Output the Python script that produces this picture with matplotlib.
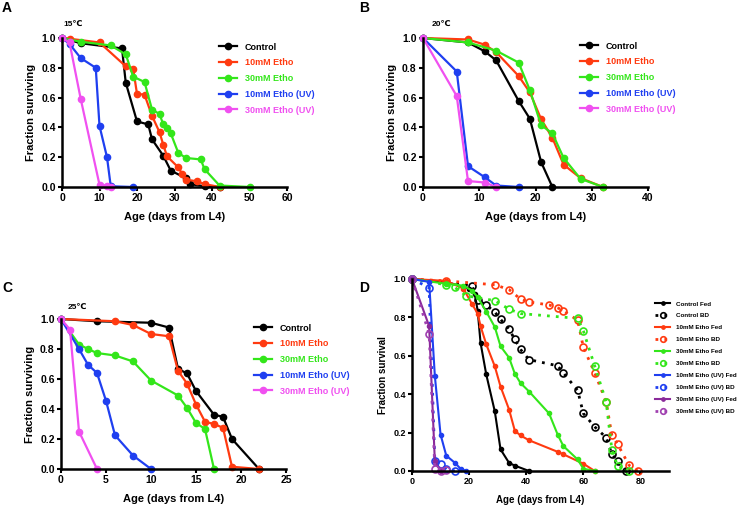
import numpy as np
import matplotlib
matplotlib.use("Agg")
import matplotlib.pyplot as plt

plt.rcParams['font.family'] = ['Liberation Sans', 'DejaVu Sans']
plt.rcParams['font.weight'] = 'bold'

# ---------------- data ----------------
series_names = ['Control', '10mM Etho', '30mM Etho', '10mM Etho (UV)', '30mM Etho (UV)']
series_colors = ['#000000', '#ff3a10', '#33e61a', '#1f3ff0', '#f050f0']

# panel A, 15C
a_ctrl_x = [0, 5, 16, 17, 20, 23, 24, 27, 29, 33, 34, 38, 42]
a_ctrl_y = [1.0, 0.965, 0.93, 0.70, 0.44, 0.42, 0.32, 0.21, 0.11, 0.06, 0.02, 0.005, 0.0]
a_10_x = [0, 2, 10, 17, 19, 20, 22, 24, 26, 27, 28, 31, 32, 33, 36, 38, 42]
a_10_y = [1.0, 0.995, 0.97, 0.81, 0.79, 0.625, 0.62, 0.478, 0.368, 0.284, 0.206, 0.132, 0.09, 0.05, 0.038, 0.02, 0.0]
a_30_x = [0, 5, 13, 17, 19, 22, 24, 26, 27, 28, 29, 31, 33, 37, 38, 42, 50]
a_30_y = [1.0, 0.975, 0.95, 0.89, 0.74, 0.705, 0.52, 0.49, 0.42, 0.395, 0.36, 0.23, 0.195, 0.185, 0.12, 0.01, 0.0]
a_10uv_x = [0, 2, 5, 9, 10, 12, 13, 19]
a_10uv_y = [1.0, 0.96, 0.865, 0.80, 0.41, 0.20, 0.005, 0.0]
a_30uv_x = [0, 2, 5, 10, 12, 13]
a_30uv_y = [1.0, 0.97, 0.59, 0.015, 0.01, 0.0]

# panel B, 20C
b_ctrl_x = [0, 8, 11, 13, 17, 19, 21, 23]
b_ctrl_y = [1.0, 0.97, 0.91, 0.85, 0.578, 0.458, 0.167, 0.0]
b_10_x = [0, 8, 11, 13, 17, 19, 21, 23, 25, 28, 32]
b_10_y = [1.0, 0.99, 0.955, 0.905, 0.745, 0.635, 0.455, 0.33, 0.15, 0.06, 0.0]
b_30_x = [0, 8, 13, 17, 19, 21, 23, 25, 28, 32]
b_30_y = [1.0, 0.97, 0.915, 0.835, 0.65, 0.415, 0.36, 0.195, 0.055, 0.0]
b_10uv_x = [0, 6, 8, 11, 13, 17]
b_10uv_y = [1.0, 0.775, 0.14, 0.065, 0.01, 0.0]
b_30uv_x = [0, 6, 8, 11, 13]
b_30uv_y = [1.0, 0.61, 0.04, 0.03, 0.0]

# panel C, 25C
c_ctrl_x = [0, 4, 10, 12, 13, 14, 15, 17, 18, 19, 22]
c_ctrl_y = [1.0, 0.985, 0.975, 0.943, 0.668, 0.637, 0.52, 0.362, 0.348, 0.20, 0.0]
c_10_x = [0, 6, 8, 10, 12, 13, 14, 15, 16, 17, 18, 19, 22]
c_10_y = [1.0, 0.985, 0.96, 0.90, 0.885, 0.655, 0.57, 0.43, 0.315, 0.30, 0.275, 0.015, 0.0]
c_30_x = [0, 2, 3, 4, 6, 8, 10, 13, 14, 15, 16, 17]
c_30_y = [1.0, 0.83, 0.80, 0.773, 0.757, 0.717, 0.59, 0.49, 0.408, 0.307, 0.267, 0.0]
c_10uv_x = [0, 2, 3, 4, 5, 6, 8, 10]
c_10uv_y = [1.0, 0.80, 0.695, 0.64, 0.455, 0.225, 0.09, 0.0]
c_30uv_x = [0, 1, 2, 4]
c_30uv_y = [1.0, 0.93, 0.25, 0.0]

# panel D, fed vs BD
d_names = ['Control Fed', 'Control BD', '10mM Etho Fed', '10mM Etho BD',
           '30mM Etho Fed', '30mM Etho BD', '10mM Etho (UV) Fed',
           '10mM Etho (UV) BD', '30mM Etho (UV) Fed', '30mM Etho (UV) BD']
d_colors = ['#000000', '#000000', '#ff3a10', '#ff3a10', '#33e61a', '#33e61a',
            '#1f3ff0', '#1f3ff0', '#8a2a9a', '#a040b0']
d_ctrl_fed_x = [0, 12, 20, 22, 23, 24, 26, 29, 31, 34, 36, 41]
d_ctrl_fed_y = [1.0, 0.985, 0.95, 0.92, 0.835, 0.668, 0.503, 0.31, 0.113, 0.042, 0.028, 0.0]
d_ctrl_bd_x = [0, 21, 23, 26, 29, 31, 34, 36, 38, 41, 51, 53, 58, 60, 64, 68, 70, 72, 75]
d_ctrl_bd_y = [1.0, 0.965, 0.89, 0.864, 0.828, 0.79, 0.739, 0.685, 0.633, 0.58, 0.548, 0.511,
               0.42, 0.30, 0.23, 0.174, 0.087, 0.052, 0.0]
d_10_fed_x = [0, 12, 18, 21, 23, 24, 26, 29, 31, 34, 36, 38, 41, 51, 53, 60, 64]
d_10_fed_y = [1.0, 0.99, 0.95, 0.87, 0.82, 0.755, 0.66, 0.545, 0.44, 0.32, 0.21, 0.185, 0.16,
              0.10, 0.087, 0.038, 0.0]
d_10_bd_x = [0, 12, 29, 34, 38, 41, 48, 51, 53, 58, 60, 64, 68, 70, 72, 76, 79]
d_10_bd_y = [1.0, 0.99, 0.97, 0.945, 0.895, 0.88, 0.865, 0.85, 0.835, 0.785, 0.645, 0.51,
             0.36, 0.185, 0.14, 0.03, 0.0]
d_30_fed_x = [0, 12, 18, 21, 23, 26, 29, 31, 34, 36, 38, 41, 48, 51, 53, 58, 60, 64]
d_30_fed_y = [1.0, 0.975, 0.965, 0.94, 0.905, 0.83, 0.75, 0.65, 0.59, 0.507, 0.458, 0.414,
              0.30, 0.19, 0.13, 0.06, 0.012, 0.0]
d_30_bd_x = [0, 12, 15, 19, 29, 34, 38, 58, 60, 64, 68, 70, 72, 76]
d_30_bd_y = [1.0, 0.97, 0.956, 0.913, 0.887, 0.843, 0.82, 0.795, 0.73, 0.546, 0.36, 0.11, 0.025, 0.0]
d_10uv_fed_x = [0, 6, 8, 10, 12, 15, 17, 19]
d_10uv_fed_y = [1.0, 0.985, 0.495, 0.19, 0.08, 0.043, 0.012, 0.0]
d_10uv_bd_x = [0, 6, 8, 10, 12, 15]
d_10uv_bd_y = [1.0, 0.955, 0.05, 0.037, 0.008, 0.0]
d_30uv_fed_x = [0, 6, 8, 10]
d_30uv_fed_y = [1.0, 0.755, 0.05, 0.0]
d_30uv_bd_x = [0, 6, 8, 10, 12]
d_30uv_bd_y = [1.0, 0.715, 0.012, 0.0, 0.003]

W, H = 742, 507
fig = plt.figure(figsize=(W / 100, H / 100), dpi=100)


def px_axes(x0, x1, ytop, ybot):
    return fig.add_axes([x0 / W, (H - ybot) / H, (x1 - x0) / W, (ybot - ytop) / H])


def style(ax, xmax, xticks, ylabel, fs=7.5):
    ax.set_xlim(0, xmax)
    ax.set_ylim(0, 1.0)
    ax.set_xticks(xticks)
    ax.set_yticks([0, 0.2, 0.4, 0.6, 0.8, 1.0])
    ax.set_yticklabels(['0.0', '0.2', '0.4', '0.6', '0.8', '1.0'])
    for s in ['top', 'right']:
        ax.spines[s].set_visible(False)
    for s in ['left', 'bottom']:
        ax.spines[s].set_linewidth(1.8)
    ax.tick_params(width=1.5, length=3, labelsize=fs, pad=1.5)
    for t in ax.get_xticklabels() + ax.get_yticklabels():
        t.set_fontweight('bold')
    ax.set_xlabel('Age (days from L4)', fontsize=fs + 0.5, fontweight='bold', labelpad=6)
    ax.set_ylabel(ylabel, fontsize=fs + 0.5, fontweight='bold', labelpad=4)


def temp_panel(ax, data, xmax, xticks, temp, tx, ty, leg_x, leg_y):
    for (xs, ys), name, c in zip(data, series_names, series_colors):
        ax.plot(xs, ys, '-o', color=c, lw=1.6, ms=4.5, label=name, clip_on=False)
    style(ax, xmax, xticks, 'Fraction surviving')
    leg = ax.legend(loc='upper left', bbox_to_anchor=(leg_x / W, 1 - leg_y / H),
                    bbox_transform=fig.transFigure, frameon=False, fontsize=6.5,
                    handlelength=2.0, handletextpad=0.9, labelspacing=0.75,
                    borderpad=0, labelcolor='linecolor')
    for t in leg.get_texts():
        t.set_fontweight('bold')
    fig.text(tx / W, 1 - ty / H, temp, fontsize=6, fontweight='bold', ha='center', va='center')


axA = px_axes(62, 287, 38, 187)
temp_panel(axA, [(a_ctrl_x, a_ctrl_y), (a_10_x, a_10_y), (a_30_x, a_30_y),
                 (a_10uv_x, a_10uv_y), (a_30uv_x, a_30uv_y)],
           60, [0, 10, 20, 30, 40, 50, 60], '15\u2103', 73, 24, 214, 38)

axB = px_axes(423, 648, 38, 187)
temp_panel(axB, [(b_ctrl_x, b_ctrl_y), (b_10_x, b_10_y), (b_30_x, b_30_y),
                 (b_10uv_x, b_10uv_y), (b_30uv_x, b_30uv_y)],
           40, [0, 10, 20, 30, 40], '20\u2103', 441, 24, 575, 37)

axC = px_axes(61, 286, 319, 469)
temp_panel(axC, [(c_ctrl_x, c_ctrl_y), (c_10_x, c_10_y), (c_30_x, c_30_y),
                 (c_10uv_x, c_10uv_y), (c_30uv_x, c_30uv_y)],
           25, [0, 5, 10, 15, 20, 25], '25\u2103', 77, 307, 249, 319)

# panel D
axD = px_axes(412, 669, 279, 471)
d_data = [(d_ctrl_fed_x, d_ctrl_fed_y), (d_ctrl_bd_x, d_ctrl_bd_y),
          (d_10_fed_x, d_10_fed_y), (d_10_bd_x, d_10_bd_y),
          (d_30_fed_x, d_30_fed_y), (d_30_bd_x, d_30_bd_y),
          (d_10uv_fed_x, d_10uv_fed_y), (d_10uv_bd_x, d_10uv_bd_y),
          (d_30uv_fed_x, d_30uv_fed_y), (d_30uv_bd_x, d_30uv_bd_y)]
for i, ((xs, ys), name, c) in enumerate(zip(d_data, d_names, d_colors)):
    if i % 2 == 0:
        axD.plot(xs, ys, '-o', color=c, lw=1.5, ms=3, label=name, clip_on=False)
    else:
        axD.plot(xs, ys, 'o', color=c, ls=(0, (1, 2.2)), lw=2, ms=5, mfc='none', mew=1.2,
                 label=name, clip_on=False)
style(axD, 90, [0, 20, 40, 60, 80], 'Fraction survival', fs=6.5)
legD = axD.legend(loc='upper left', bbox_to_anchor=(652 / W, 1 - 298 / H),
                  bbox_transform=fig.transFigure, frameon=False, fontsize=4.5,
                  handlelength=2.4, handletextpad=0.9, labelspacing=1.05, borderpad=0,
                  markerscale=0.8)
for t in legD.get_texts():
    t.set_fontweight('bold')

for lab, x, y in [('A', 7, 8), ('B', 364, 8), ('C', 7, 288), ('D', 364, 288)]:
    fig.text(x / W, 1 - y / H, lab, fontsize=10, fontweight='bold', ha='center', va='center')

fig.savefig('out.png', dpi=100)
